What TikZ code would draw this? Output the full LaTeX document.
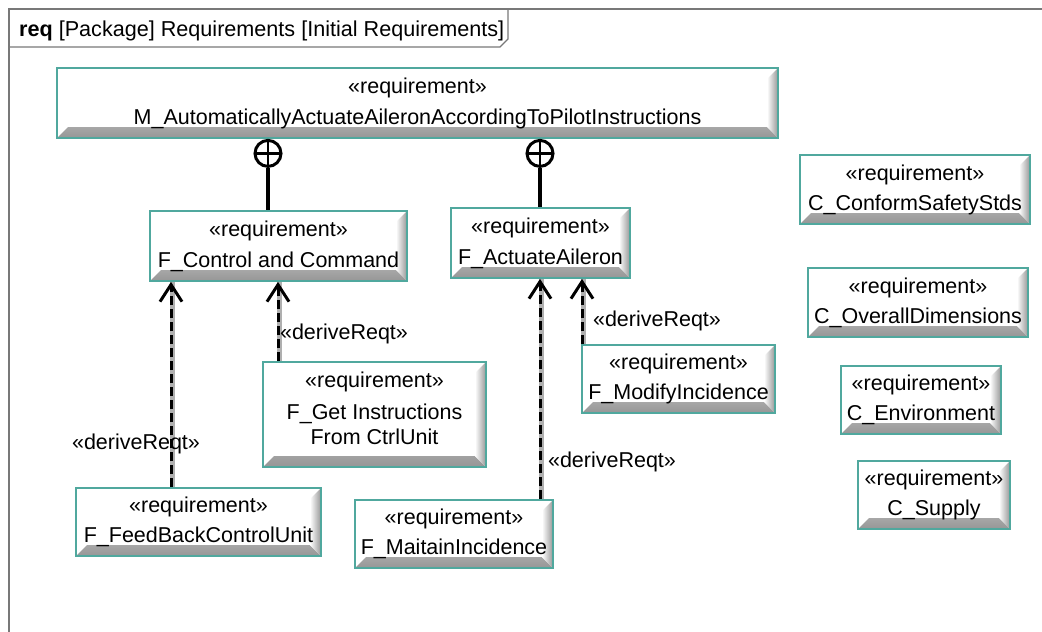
\documentclass[tikz,border=0pt]{standalone}
\usepackage{fontspec}
\setmainfont{Liberation Sans}
\usetikzlibrary{arrows.meta,calc}

\definecolor{reqborder}{RGB}{80,168,158}
\definecolor{bevelgray}{RGB}{150,150,150}
\definecolor{framegray}{RGB}{120,120,120}
\definecolor{shadowgray}{RGB}{175,175,175}

\newcommand\reqfont{\fontsize{21.5}{30}\selectfont}

\tikzset{
  reqbox/.style={
    draw=reqborder, line width=1.8pt, fill=white, inner sep=0pt,
    align=center, font=\reqfont,
    path picture={
      % bottom bevel
      \shade[top color=white, bottom color=bevelgray]
        (path picture bounding box.south west) -- (path picture bounding box.south east)
        -- ($(path picture bounding box.south east)+(-11pt,11pt)$)
        -- ($(path picture bounding box.south west)+(11pt,11pt)$) -- cycle;
      % right bevel
      \shade[left color=white, right color=bevelgray]
        (path picture bounding box.north east) -- (path picture bounding box.south east)
        -- ($(path picture bounding box.south east)+(-11pt,11pt)$)
        -- ($(path picture bounding box.north east)+(-11pt,-11pt)$) -- cycle;
    }
  },
  circplus/.style={
    circle, draw, line width=3pt, minimum size=26pt, inner sep=0pt, fill=white,
    path picture={
      \draw[line width=2.8pt] (path picture bounding box.north) -- (path picture bounding box.south);
      \draw[line width=2.8pt] (path picture bounding box.west) -- (path picture bounding box.east);
    }
  },
  contain/.style={line width=3.4pt},
  derive/.style={
    preaction={draw=shadowgray, line width=5pt, -, transform canvas={xshift=1pt}},
    draw=black, line width=3pt, dash pattern=on 9pt off 4pt,
    -{Straight Barb[length=17pt,width=22pt,line width=3pt]}
  },
  dlabel/.style={font=\reqfont, inner sep=0pt}
}

\begin{document}
\begin{tikzpicture}[x=1pt,y=-1pt]
\useasboundingbox (0,0) rectangle (1042,632);
\fill[white] (0,0) rectangle (1042,632);

% diagram frame and its name tab
\draw[framegray, line width=1.6pt] (1042,9) -- (9,9) -- (9,632);
\draw[framegray, line width=1.4pt] (9,47) -- (500,47) -- (508,39) -- (508,9);
\node (hdr) [anchor=west, inner sep=0pt, font=\fontsize{21.6}{24}\selectfont] at (19,31)
  {\textbf{req} [Package] Requirements [Initial Requirements]};

% requirements
\node[reqbox, minimum width=721pt, minimum height=70pt] (m) at (417.5,103)
  {«requirement»\\[1pt]M\_AutomaticallyActuateAileronAccordingToPilotInstructions};
\node[reqbox, minimum width=257pt, minimum height=70pt] (cc) at (278.5,246)
  {«requirement»\\[1pt]F\_Control and Command};
\node[reqbox, minimum width=179pt, minimum height=70pt] (aa) at (540.5,243)
  {«requirement»\\[1pt]F\_ActuateAileron};
\node[reqbox, minimum width=223pt, minimum height=105pt] (gi) at (374.5,414.5)
  {\raisebox{5pt}[\height][\depth]{\begin{tabular}{@{}c@{}}«requirement»\\[2pt]F\_Get Instructions\\[-5pt]From CtrlUnit\end{tabular}}};
\node[reqbox, minimum width=245pt, minimum height=68pt] (fb) at (198.5,522)
  {«requirement»\\F\_FeedBackControlUnit};
\node[reqbox, minimum width=198pt, minimum height=68pt] (mi) at (454,534)
  {«requirement»\\F\_MaitainIncidence};
\node[reqbox, minimum width=193pt, minimum height=68pt] (mo) at (678.5,379)
  {«requirement»\\F\_ModifyIncidence};
\node[reqbox, minimum width=230pt, minimum height=69pt] (cs) at (915,189.5)
  {«requirement»\\C\_ConformSafetyStds};
\node[reqbox, minimum width=220pt, minimum height=69pt] (od) at (918,302.5)
  {«requirement»\\C\_OverallDimensions};
\node[reqbox, minimum width=160pt, minimum height=68pt] (en) at (921,400)
  {«requirement»\\C\_Environment};
\node[reqbox, minimum width=152pt, minimum height=68pt] (su) at (934,495)
  {«requirement»\\C\_Supply};

% containment
\node[circplus, anchor=north] (p1) at (268,0 |- m.south) {};
\node[circplus, anchor=north] (p2) at (540,0 |- m.south) {};
\draw[contain] (p1) -- (p1 |- cc.north);
\draw[contain] (p2) -- (p2 |- aa.north);

% derivations
\draw[derive] (171,0 |- fb.north) -- (171,0 |- cc.south);
\draw[derive] (278,0 |- gi.north) -- (278,0 |- cc.south);
\draw[derive] (540,0 |- mi.north) -- (540,0 |- aa.south);
\draw[derive] (582,0 |- mo.north) -- (582,0 |- aa.south);

\node[dlabel] (l1) at (136,444) {«deriveReqt»};
\node[dlabel] (l2) at (344,334) {«deriveReqt»};
\node[dlabel] (l3) at (612,462) {«deriveReqt»};
\node[dlabel] (l4) at (657,321) {«deriveReqt»};
\end{tikzpicture}
\end{document}
